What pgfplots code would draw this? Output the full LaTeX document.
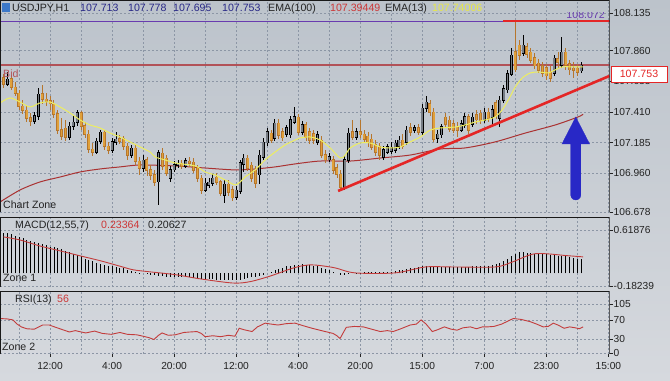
\documentclass[border=0pt]{standalone}
\usepackage{fontspec}
\setmainfont{Liberation Sans}
\usepackage{pgfplots}
\pgfplotsset{compat=1.18}
\usepackage{pgfplotstable}

\definecolor{bgtop}{RGB}{188,195,203}
\definecolor{bgbot}{RGB}{214,217,222}
\definecolor{gridc}{RGB}{140,150,165}
\definecolor{bearfill}{RGB}{224,160,58}
\definecolor{bearline}{RGB}{182,118,45}
\definecolor{bullfill}{RGB}{118,124,132}
\definecolor{ema13c}{RGB}{238,238,95}
\definecolor{ema100c}{RGB}{170,50,50}
\definecolor{trendc}{RGB}{228,38,38}
\definecolor{bidc}{RGB}{178,82,88}
\definecolor{purp}{RGB}{105,60,175}
\definecolor{arrowc}{RGB}{40,40,198}
\definecolor{rsic}{RGB}{195,60,60}
\definecolor{txt}{RGB}{35,35,35}
\definecolor{hdrblue}{RGB}{40,40,135}
\definecolor{hdrred}{RGB}{205,55,55}
\definecolor{hdryel}{RGB}{232,232,70}
\definecolor{framec}{RGB}{25,25,25}
\definecolor{iconc}{RGB}{60,120,200}

\newcommand{\txtsize}{\fontsize{10.6bp}{12bp}\selectfont}
\newcommand{\ticksize}{\fontsize{10.2bp}{12bp}\selectfont}

\pgfplotstableread{
i o h l c
0 107.659 107.688 107.586 107.615
1 107.615 107.703 107.600 107.652
2 107.652 107.681 107.571 107.593
3 107.593 107.630 107.527 107.549
4 107.549 107.571 107.425 107.454
5 107.454 107.498 107.396 107.425
6 107.425 107.461 107.337 107.366
7 107.366 107.403 107.308 107.344
8 107.344 107.410 107.322 107.381
9 107.381 107.586 107.352 107.542
10 107.542 107.608 107.469 107.505
11 107.505 107.549 107.454 107.491
12 107.491 107.527 107.425 107.469
13 107.469 107.498 107.366 107.396
14 107.396 107.425 107.249 107.278
15 107.278 107.366 107.205 107.234
16 107.293 107.352 107.198 107.227
17 107.227 107.337 107.205 107.308
18 107.308 107.381 107.278 107.337
19 107.337 107.425 107.308 107.403
20 107.403 107.418 107.278 107.308
21 107.308 107.337 107.220 107.249
22 107.249 107.278 107.110 107.139
23 107.139 107.183 107.088 107.117
24 107.117 107.220 107.103 107.198
25 107.198 107.278 107.176 107.264
26 107.264 107.278 107.132 107.161
27 107.161 107.191 107.103 107.132
28 107.132 107.220 107.110 107.191
29 107.191 107.264 107.169 107.213
30 107.213 107.242 107.176 107.198
31 107.213 107.234 107.132 107.161
32 107.161 107.183 107.059 107.095
33 107.095 107.169 107.073 107.147
34 107.147 107.169 107.022 107.051
35 107.051 107.081 106.949 107.000
36 107.000 107.095 106.971 107.059
37 107.059 107.081 106.942 106.986
38 106.986 107.022 106.912 106.949
39 106.949 106.986 106.868 106.898
40 106.898 107.132 106.729 107.110
41 107.110 107.147 106.986 107.015
42 107.073 107.095 106.942 106.964
43 106.927 107.015 106.898 106.986
44 106.986 107.051 106.971 107.022
45 107.022 107.059 107.000 107.037
46 107.037 107.059 106.993 107.015
47 107.015 107.073 107.000 107.051
48 107.051 107.081 107.008 107.037
49 107.044 107.073 106.964 106.986
50 107.000 107.022 106.898 106.927
51 106.927 106.949 106.810 106.839
52 106.839 106.927 106.825 106.890
53 106.876 106.927 106.854 106.898
54 106.890 106.956 106.868 106.927
55 106.934 106.964 106.876 106.898
56 106.898 106.912 106.795 106.817
57 106.803 106.912 106.744 106.883
58 106.883 106.912 106.795 106.825
59 106.839 106.868 106.759 106.781
60 106.788 106.868 106.766 106.839
61 106.832 107.059 106.810 107.037
62 107.030 107.103 106.971 107.073
63 107.073 107.095 106.978 107.000
64 107.022 107.044 106.898 106.927
65 106.986 107.015 106.854 106.890
66 106.950 107.132 106.883 107.095
67 107.081 107.220 107.059 107.191
68 107.183 107.293 107.161 107.264
69 107.256 107.278 107.183 107.205
70 107.220 107.359 107.198 107.330
71 107.330 107.359 107.213 107.242
72 107.264 107.293 107.198 107.220
73 107.249 107.315 107.227 107.293
74 107.242 107.381 107.220 107.352
75 107.337 107.447 107.322 107.374
76 107.374 107.396 107.242 107.264
77 107.264 107.344 107.242 107.315
78 107.315 107.337 107.198 107.227
79 107.264 107.293 107.176 107.205
80 107.249 107.278 107.176 107.205
81 107.191 107.271 107.169 107.242
82 107.205 107.234 107.073 107.095
83 107.095 107.132 107.037 107.059
84 107.059 107.110 107.044 107.081
85 107.059 107.088 106.956 106.986
86 107.000 107.030 106.927 106.956
87 106.956 106.986 106.839 106.861
88 106.861 107.088 106.839 107.059
89 107.059 107.293 107.037 107.256
90 107.264 107.352 107.205 107.227
91 107.227 107.293 107.205 107.264
92 107.264 107.352 107.220 107.242
93 107.249 107.278 107.191 107.213
94 107.234 107.264 107.154 107.191
95 107.213 107.249 107.132 107.154
96 107.169 107.205 107.088 107.117
97 107.154 107.183 107.059 107.095
98 107.081 107.161 107.059 107.132
99 107.117 107.176 107.103 107.154
100 107.125 107.191 107.103 107.154
101 107.132 107.205 107.110 107.183
102 107.161 107.234 107.139 107.205
103 107.205 107.249 107.139 107.161
104 107.191 107.308 107.169 107.278
105 107.293 107.330 107.234 107.264
106 107.278 107.315 107.256 107.293
107 107.293 107.322 107.242 107.264
108 107.264 107.469 107.242 107.439
109 107.439 107.527 107.410 107.483
110 107.469 107.498 107.381 107.410
111 107.410 107.439 107.191 107.213
112 107.220 107.278 107.183 107.249
113 107.242 107.322 107.220 107.300
114 107.374 107.403 107.300 107.322
115 107.352 107.381 107.264 107.286
116 107.322 107.352 107.256 107.278
117 107.300 107.337 107.227 107.278
118 107.278 107.352 107.264 107.322
119 107.315 107.403 107.293 107.374
120 107.374 107.396 107.249 107.278
121 107.322 107.403 107.300 107.374
122 107.388 107.425 107.322 107.352
123 107.403 107.425 107.322 107.352
124 107.352 107.439 107.330 107.410
125 107.410 107.439 107.337 107.366
126 107.374 107.461 107.300 107.425
127 107.476 107.498 107.359 107.381
128 107.366 107.527 107.300 107.498
129 107.498 107.608 107.476 107.579
130 107.571 107.718 107.549 107.688
131 107.688 107.879 107.674 107.827
132 107.849 108.072 107.703 107.718
133 107.900 107.937 107.791 107.827
134 107.842 107.974 107.820 107.900
135 107.886 107.915 107.805 107.835
136 107.849 107.879 107.769 107.791
137 107.805 107.842 107.725 107.747
138 107.769 107.798 107.696 107.718
139 107.747 107.776 107.666 107.696
140 107.732 107.762 107.644 107.674
141 107.703 107.747 107.630 107.659
142 107.696 107.827 107.674 107.805
143 107.798 107.849 107.732 107.776
144 107.754 107.959 107.732 107.849
145 107.849 107.879 107.718 107.754
146 107.762 107.791 107.681 107.718
147 107.732 107.776 107.659 107.718
148 107.732 107.762 107.674 107.703
149 107.713 107.778 107.695 107.753
}\candles

\pgfplotstableread{
i h
0 0.58
1 0.575
2 0.56
3 0.54
4 0.52
5 0.50
6 0.48
7 0.46
8 0.44
9 0.43
10 0.42
11 0.40
12 0.38
13 0.37
14 0.36
15 0.34
16 0.32
17 0.30
18 0.28
19 0.26
20 0.24
21 0.21
22 0.19
23 0.17
24 0.15
25 0.13
26 0.12
27 0.11
28 0.10
29 0.09
30 0.08
31 0.07
32 0.05
33 0.03
34 0.02
35 0.01
36 0.00
37 -0.01
38 -0.02
39 -0.03
40 -0.04
41 -0.04
42 -0.05
43 -0.05
44 -0.05
45 -0.06
46 -0.06
47 -0.06
48 -0.06
49 -0.07
50 -0.07
51 -0.08
52 -0.08
53 -0.08
54 -0.08
55 -0.09
56 -0.09
57 -0.09
58 -0.10
59 -0.10
60 -0.10
61 -0.09
62 -0.08
63 -0.07
64 -0.06
65 -0.05
66 -0.04
67 -0.02
68 0.00
69 0.02
70 0.04
71 0.06
72 0.08
73 0.10
74 0.11
75 0.12
76 0.12
77 0.13
78 0.12
79 0.12
80 0.11
81 0.10
82 0.08
83 0.06
84 0.04
85 0.02
86 0.00
87 -0.02
88 -0.02
89 -0.01
90 0.00
91 0.01
92 0.01
93 0.02
94 0.02
95 0.02
96 0.02
97 0.02
98 0.02
99 0.02
100 0.02
101 0.03
102 0.04
103 0.05
104 0.06
105 0.07
106 0.08
107 0.09
108 0.10
109 0.11
110 0.10
111 0.09
112 0.09
113 0.09
114 0.09
115 0.09
116 0.09
117 0.09
118 0.09
119 0.09
120 0.09
121 0.10
122 0.10
123 0.10
124 0.10
125 0.11
126 0.12
127 0.13
128 0.15
129 0.18
130 0.21
131 0.25
132 0.28
133 0.30
134 0.30
135 0.29
136 0.29
137 0.28
138 0.28
139 0.27
140 0.27
141 0.26
142 0.26
143 0.25
144 0.25
145 0.24
146 0.23
147 0.22
148 0.21
149 0.206
}\macd

\pgfplotsset{
  pane/.style={
    scale only axis, width=609.5bp, xmin=-0.9, xmax=156.3,
    axis line style={draw=none},
    xtick={12,28,...,156}, minor xtick={4,20,...,148},
    grid=both,
    major grid style={gridc, dash pattern=on 2bp off 2bp, line width=0.5bp},
    minor grid style={gridc, dash pattern=on 2bp off 2bp, line width=0.5bp},
    ytick pos=right, yticklabel pos=right, xtick pos=bottom,
    tick align=outside, major tick length=3bp, minor tick length=0pt,
    tick style={txt, line width=0.6bp},
    tick label style={font=\ticksize, text=txt},
    yticklabel style={anchor=west, inner sep=1bp},
  },
  wick/.style={draw=none, mark=none, error bars/.cd, y dir=both, y explicit, error mark=none, error bar style={draw=#1, line width=0.8bp}},
  body/.style 2 args={draw=none, mark=none, error bars/.cd, y dir=both, y explicit, error mark=none, error bar style={draw=#1, line width=#2}},
  bull/.style={restrict expr to domain={\thisrow{c}-\thisrow{o}}{0:5}},
  bear/.style={restrict expr to domain={\thisrow{o}-\thisrow{c}}{0.00001:5}},
}

\begin{document}
\begin{tikzpicture}
\useasboundingbox (0,0) rectangle (670bp,381bp);
\shade[top color=bgtop, bottom color=bgbot] (0,0) rectangle (670bp,381bp);

% ---------- main price pane ----------
\begin{axis}[pane, at={(0bp,381bp)}, anchor=north west, height=212bp,
  ymin=106.678, ymax=108.2298,
  ytick={106.678,106.960,107.185,107.410,107.635,107.860,108.135},
  yticklabels={106.678,106.960,107.185,107.410,107.635,107.860,108.135},
  xticklabels={}, xtick style={draw=none}]
  \addplot[purp, line width=0.8bp] coordinates {(-0.9,108.072) (156.3,108.072)};
  \addplot[bidc, line width=1.3bp] coordinates {(-0.9,107.753) (156.3,107.753)};
  \addplot[ema100c, line width=1bp, smooth] coordinates {
    (-0.9,106.751) (4.26,106.839) (9.42,106.898) (14.58,106.934) (19.74,106.971)
    (24.9,106.993) (30.06,107.008) (35.23,107.022) (44.26,107.015) (52.0,107.000)
    (59.74,106.986) (64.9,106.993) (70.06,107.008) (75.23,107.030) (81.68,107.051)
    (89.42,107.051) (97.16,107.073) (104.9,107.095) (112.6,107.139) (119.1,107.147)
    (126.8,107.191) (134.6,107.256) (142.3,107.315) (148.2,107.374) (149.5,107.394)};
  \addplot[bull, wick=black]
    table[x=i, y expr={(\thisrow{h}+\thisrow{l})/2}, y error expr={(\thisrow{h}-\thisrow{l})/2}] {\candles};
  \addplot[bear, wick=bearline]
    table[x=i, y expr={(\thisrow{h}+\thisrow{l})/2}, y error expr={(\thisrow{h}-\thisrow{l})/2}] {\candles};
  \addplot[bull, body={black}{3.0bp}]
    table[x=i, y expr={(\thisrow{o}+\thisrow{c})/2}, y error expr={abs(\thisrow{c}-\thisrow{o})/2+0.004}] {\candles};
  \addplot[bear, body={bearline}{3.0bp}]
    table[x=i, y expr={(\thisrow{o}+\thisrow{c})/2}, y error expr={abs(\thisrow{c}-\thisrow{o})/2+0.004}] {\candles};
  \addplot[bull, body={bullfill}{1.7bp}]
    table[x=i, y expr={(\thisrow{o}+\thisrow{c})/2}, y error expr={max(abs(\thisrow{c}-\thisrow{o})/2-0.0005,0.0005)}] {\candles};
  \addplot[bear, body={bearfill}{1.7bp}]
    table[x=i, y expr={(\thisrow{o}+\thisrow{c})/2}, y error expr={max(abs(\thisrow{c}-\thisrow{o})/2-0.0005,0.0005)}] {\candles};
  \addplot[ema13c, line width=1bp, smooth] coordinates {
    (-0.9,107.476) (1.68,107.513) (4.26,107.483) (6.84,107.447) (9.42,107.476)
    (12.0,107.483) (14.58,107.447) (17.16,107.403) (19.74,107.352) (22.32,107.315)
    (24.9,107.293) (27.48,107.256) (30.06,107.227) (32.65,107.191) (35.23,107.154)
    (37.81,107.117) (39.10,107.081) (41.68,107.059) (44.26,107.037) (49.42,107.015)
    (52.0,106.971) (54.58,106.949) (57.16,106.912) (59.74,106.876) (61.03,106.898)
    (62.32,106.934) (64.9,106.986) (67.48,107.059) (70.06,107.117) (72.65,107.169)
    (75.23,107.205) (76.5,107.220) (79.1,107.227) (81.68,107.205) (84.26,107.147)
    (86.84,107.073) (88.13,107.095) (89.42,107.147) (92.0,107.183) (94.58,107.183)
    (97.16,107.154) (99.74,107.147) (102.3,107.154) (104.9,107.191) (107.5,107.227)
    (110.1,107.278) (112.6,107.293) (116.5,107.300) (119.1,107.315) (121.7,107.337)
    (124.3,107.352) (126.8,107.374) (128.6,107.425) (130.2,107.498) (132.0,107.593)
    (133.8,107.659) (135.9,107.696) (138.0,107.703) (140.5,107.696) (142.3,107.718)
    (144.1,107.740) (147.5,107.740) (149.5,107.740)};
  \addplot[trendc, line width=2.6bp] coordinates {(86.3,106.832) (156.3,107.674)};
  \addplot[trendc, line width=2.4bp] coordinates {(128.9,108.077) (156.3,108.077)};
  \addplot[fill=arrowc, draw=arrowc, line width=0.3bp] coordinates {
    (146.3,106.800) (146.3,107.176) (144.03,107.176) (147.6,107.373)
    (151.17,107.176) (148.9,107.176) (148.9,106.800) (148.72,106.783)
    (148.25,106.770) (147.6,106.766) (146.95,106.770) (146.48,106.783) (146.3,106.800)};
  \draw[framec, line width=0.9bp] (rel axis cs:0,0) rectangle (rel axis cs:1,1);
\end{axis}

% ---------- MACD pane ----------
\begin{axis}[pane, at={(0bp,164bp)}, anchor=north west, height=70bp,
  ymin=-0.1967, ymax=0.8047,
  ytick={-0.18239,0.61876}, yticklabels={-0.18239,0.61876},
  xticklabels={}, xtick style={draw=none}]
  \addplot[ycomb, black, line width=0.75bp, mark=none] table[x=i, y=h] {\macd};
  \addplot[rsic, line width=0.9bp, smooth] coordinates {
    (0,0.52) (4.26,0.476) (9.4,0.39) (14.6,0.32) (19.7,0.25) (24.9,0.18)
    (30.1,0.10) (33.4,0.05) (37.8,0.02) (44.3,-0.02) (50.7,-0.08) (59.2,-0.14)
    (63.6,-0.12) (68.8,-0.04) (73.9,0.06) (76.5,0.10) (79.1,0.12) (81.7,0.11)
    (85.6,0.076) (90.7,0.005) (101,0.005) (108.8,0.09) (115.7,0.09) (126.8,0.09)
    (131.2,0.16) (137.2,0.28) (145.7,0.25) (149.5,0.234)};
  \draw[framec, line width=0.9bp] (rel axis cs:0,0) -- (rel axis cs:0,1) -- (rel axis cs:1,1) -- (rel axis cs:1,0);
\end{axis}

% ---------- RSI pane ----------
\begin{axis}[pane, at={(0bp,90bp)}, anchor=north west, height=63bp,
  ymin=-2.1, ymax=132.9,
  ytick={0,30,70,105}, yticklabels={0,30,70,105},
  xticklabels={12:00,4:00,20:00,12:00,4:00,20:00,15:00,7:00,23:00,15:00},
  xticklabel style={yshift=-2bp}]
  \addplot[rsic, line width=0.9bp] coordinates {
    (-0.9,74) (1.0,73) (2.4,71) (3.5,62) (4.6,56) (6.0,52) (7.9,51) (10.1,60)
    (11.8,60) (13.5,55) (15.6,49) (17.0,45) (18.5,48) (21.2,43) (23.5,47) (25.5,42)
    (27.8,40) (30.0,44) (32.0,40) (34.4,39) (36.0,36) (37.5,33) (38.8,29) (40.0,38)
    (40.9,43) (42.5,38) (44.3,39) (46.5,44) (48.0,45) (49.9,46) (51.0,42) (52.0,35)
    (54.0,37) (56.0,35) (58.0,38) (59.7,36) (60.8,53) (62.0,50) (64.1,46) (65.5,56)
    (67.5,64) (69.0,62) (70.8,60) (73.0,63) (75.2,64) (77.5,58) (79.6,53) (82.0,48)
    (85.0,42) (86.0,37) (86.8,31) (88.4,55) (90.5,57) (92.8,56) (95.0,51) (97.2,46)
    (99.0,48) (100.5,46) (102.5,52) (104.9,60) (106.5,62) (107.7,71) (109.0,62)
    (110.6,46) (112.0,50) (113.7,56) (115.5,51) (117.0,49) (118.5,54) (120.4,56)
    (122.0,52) (123.5,56) (124.8,56) (126.5,57) (128.5,62) (130.0,68) (131.5,74)
    (133.5,72) (135.9,67) (137.5,62) (139.2,56) (140.5,57) (141.8,64) (143.0,60)
    (144.6,53) (146.0,56) (147.5,54) (148.5,52) (149.5,56)};
  \draw[framec, line width=0.9bp] (rel axis cs:0,0) -- (rel axis cs:0,1) -- (rel axis cs:1,1) -- (rel axis cs:1,0);
\end{axis}

% ---------- texts ----------
\begin{scope}[font=\txtsize]
  \fill[iconc] (2bp,369bp) rectangle (10bp,378bp);
  \node[anchor=base west, inner sep=0, text=txt] at (12bp,369bp) {USDJPY,H1};
  \node[anchor=base west, inner sep=0, text=hdrblue] at (80bp,369bp) {107.713};
  \node[anchor=base west, inner sep=0, text=hdrblue] at (128bp,369bp) {107.778};
  \node[anchor=base west, inner sep=0, text=hdrblue] at (173bp,369bp) {107.695};
  \node[anchor=base west, inner sep=0, text=hdrblue] at (222bp,369bp) {107.753};
  \node[anchor=base west, inner sep=0, text=txt] at (268bp,369bp) {EMA(100)};
  \node[anchor=base west, inner sep=0, text=hdrred] at (330bp,369bp) {107.39449};
  \node[anchor=base west, inner sep=0, text=txt] at (385bp,369bp) {EMA(13)};
  \node[anchor=base west, inner sep=0, text=hdryel] at (432bp,369bp) {107.74006};
  \begin{scope}
    \clip (0,0) rectangle (670bp,368.5bp);
    \node[anchor=base east, inner sep=0, text=purp] at (605bp,362bp) {108.072};
  \end{scope}
  \node[anchor=base west, inner sep=0, text=bidc] at (3bp,303bp) {Bid};
  \node[anchor=base west, inner sep=0, text=txt] at (3bp,172.5bp) {Chart Zone};
  \node[anchor=base west, inner sep=0, text=txt] at (15bp,152bp) {MACD(12,55,7)};
  \node[anchor=base west, inner sep=0, text=hdrred] at (101bp,152bp) {0.23364};
  \node[anchor=base west, inner sep=0, text=txt] at (148bp,152bp) {0.20627};
  \node[anchor=base west, inner sep=0, text=txt] at (3bp,99bp) {Zone 1};
  \node[anchor=base west, inner sep=0, text=txt] at (15bp,78bp) {RSI(13)};
  \node[anchor=base west, inner sep=0, text=hdrred] at (57bp,78bp) {56};
  \node[anchor=base west, inner sep=0, text=txt] at (2bp,30.5bp) {Zone 2};
  \draw[fill=white, draw=trendc, line width=0.8bp] (611bp,299bp) rectangle (667bp,315bp);
  \node[text=trendc, inner sep=0] at (639bp,307bp) {107.753};
\end{scope}
\end{tikzpicture}
\end{document}
